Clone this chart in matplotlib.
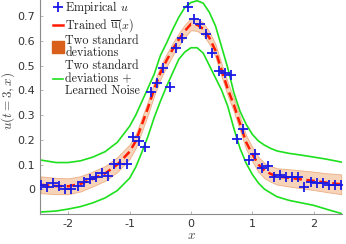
import numpy as np
import matplotlib
matplotlib.use("Agg")
import matplotlib.pyplot as plt
from matplotlib.lines import Line2D

plt.rcParams['mathtext.fontset'] = 'cm'

# Empirical points
x_emp = [-2.45, -2.35, -2.25, -2.15, -2.05, -1.95, -1.85, -1.75, -1.65, -1.55,
         -1.45, -1.35, -1.25, -1.15, -1.05, -0.95, -0.85, -0.75, -0.65, -0.55,
         -0.45, -0.35, -0.25, -0.15, -0.05, 0.05, 0.15, 0.25, 0.35, 0.45,
         0.55, 0.65, 0.75, 0.85, 0.95, 1.05, 1.15, 1.25, 1.35, 1.45,
         1.55, 1.65, 1.75, 1.85, 1.95, 2.05, 2.15, 2.25, 2.35, 2.45]
u_emp = [0.018, 0.010, 0.025, 0.015, 0.000, 0.000, 0.015, 0.030, 0.043, 0.050,
         0.064, 0.053, 0.102, 0.102, 0.102, 0.212, 0.196, 0.172, 0.392, 0.430,
         0.492, 0.414, 0.569, 0.610, 0.737, 0.690, 0.666, 0.626, 0.549, 0.478,
         0.470, 0.462, 0.205, 0.243, 0.119, 0.142, 0.085, 0.095, 0.049, 0.056,
         0.049, 0.049, 0.049, 0.008, 0.030, 0.026, 0.025, 0.018, 0.018, 0.016]

# Trained mean and bands
x_fit = [-2.45, -2.2, -2.0, -1.8, -1.6, -1.4, -1.2, -1.0, -0.9, -0.8, -0.7, -0.6,
         -0.5, -0.4, -0.3, -0.2, -0.1, 0.0, 0.1, 0.2, 0.3, 0.4, 0.5, 0.6, 0.7,
         0.8, 0.9, 1.0, 1.1, 1.2, 1.3, 1.4, 1.6, 1.8, 2.0, 2.2, 2.45]
u_mean = [0.018, 0.013, 0.012, 0.022, 0.042, 0.064, 0.100, 0.152, 0.195, 0.262, 0.330, 0.405,
          0.470, 0.520, 0.565, 0.605, 0.640, 0.668, 0.665, 0.648, 0.612, 0.560, 0.480, 0.405, 0.340,
          0.265, 0.190, 0.142, 0.100, 0.075, 0.062, 0.052, 0.046, 0.040, 0.034, 0.027, 0.020]
u_std2 = [0.034, 0.033, 0.032, 0.031, 0.030, 0.030, 0.030, 0.029, 0.028, 0.028, 0.027, 0.027,
          0.026, 0.026, 0.025, 0.025, 0.025, 0.025, 0.025, 0.025, 0.025, 0.026, 0.026, 0.027, 0.027,
          0.028, 0.028, 0.029, 0.030, 0.031, 0.032, 0.033, 0.035, 0.036, 0.037, 0.038, 0.040]
u_noise_hi = [0.118, 0.108, 0.108, 0.115, 0.130, 0.152, 0.190, 0.255, 0.300, 0.355, 0.410, 0.465,
              0.540, 0.590, 0.645, 0.695, 0.735, 0.755, 0.762, 0.752, 0.715, 0.660, 0.575, 0.490, 0.390,
              0.315, 0.262, 0.222, 0.195, 0.178, 0.165, 0.155, 0.145, 0.138, 0.130, 0.122, 0.110]
u_noise_lo = [-0.092, -0.088, -0.080, -0.070, -0.055, -0.035, -0.005, 0.045, 0.090, 0.150, 0.215, 0.290,
              0.355, 0.415, 0.470, 0.525, 0.555, 0.572, 0.572, 0.550, 0.500, 0.450, 0.400, 0.335, 0.245,
              0.165, 0.105, 0.060, 0.025, 0.000, -0.015, -0.030, -0.045, -0.055, -0.065, -0.080, -0.098]

x_fit = np.array(x_fit); u_mean = np.array(u_mean); u_std2 = np.array(u_std2)

fig = plt.figure(figsize=(3.46, 2.44), dpi=100)
ax = fig.add_axes([0.116, 0.123, 0.872, 0.877])

ax.fill_between(x_fit, u_mean - u_std2, u_mean + u_std2, facecolor='#f6c9a8', alpha=0.8,
                edgecolor='#e8a070', linewidth=0.6, zorder=1)
ax.plot(x_fit, u_noise_hi, color='#1ee01e', lw=1.2, zorder=2)
ax.plot(x_fit, u_noise_lo, color='#1ee01e', lw=1.2, zorder=2)
ax.plot(x_fit, u_mean, color='#ff1a00', lw=1.8, dashes=(3.4, 1.8), zorder=3)
ax.plot(x_emp, u_emp, linestyle='none', marker='+', color='#1a1ae6', ms=7, mew=1.3, zorder=4)

ax.set_xlim(-2.46, 2.46)
ax.set_ylim(-0.1, 0.765)
ax.set_xticks([-2, -1, 0, 1, 2])
ax.set_xticklabels(['-2', '-1', '0', '1', '2'])
ax.set_yticks([0, 0.1, 0.2, 0.3, 0.4, 0.5, 0.6, 0.7])
ax.set_yticklabels(['0', '0.1', '0.2', '0.3', '0.4', '0.5', '0.6', '0.7'])
for s in ['top', 'right']:
    ax.spines[s].set_visible(False)
for s in ['left', 'bottom']:
    ax.spines[s].set_color('#8a8a8a')
    ax.spines[s].set_linewidth(0.8)
ax.tick_params(direction='in', length=2.5, width=0.6, color='#aaaaaa', labelsize=8,
               labelcolor='#333333', pad=3.5)
ax.set_xlabel('$x$', fontsize=9.5, color='#444444', labelpad=0)
ax.set_ylabel('$u(t=3,x)$', fontsize=9.5, color='#444444')
ax.yaxis.set_label_coords(-0.078, 0.53)

handles = [
    Line2D([], [], linestyle='none', marker='+', color='#1a1ae6', ms=7, mew=1.3),
    Line2D([], [], color='#ff1a00', lw=1.8),
    Line2D([], [], linestyle='none', marker='s', color='#d9601a', ms=8),
    Line2D([], [], color='#1ee01e', lw=1.2),
]
labels = ['Empirical $u$', r'Trained $\overline{\mathrm{u}}(x)$', 'Two standard\ndeviations',
          'Two standard\ndeviations +\nLearned Noise']
leg = ax.legend(handles, labels, loc='upper left', bbox_to_anchor=(0.015, 1.045), frameon=False,
                handlelength=0.8, handletextpad=0.2, labelspacing=0.05, borderpad=0.2,
                prop={'family': 'cmr10', 'size': 8.7})
for t in leg.get_texts():
    t.set_color('#222222')
    t.set_linespacing(1.05)

fig.savefig('out.png', dpi=100)
